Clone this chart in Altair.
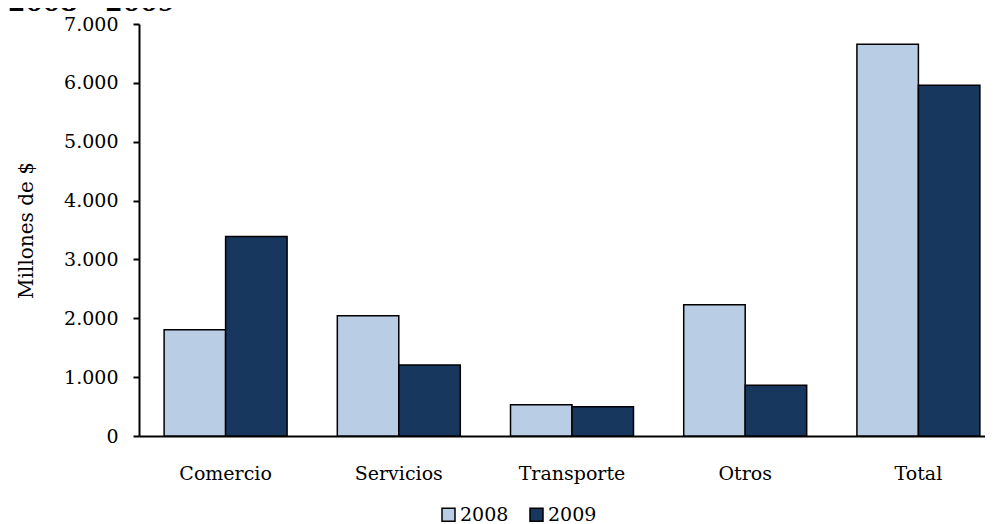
import altair as alt
import pandas as pd

# ---- data ----
chart_title = "2008 - 2009"
categories = ["Comercio", "Servicios", "Transporte", "Otros", "Total"]
years = ["2008", "2009"]
values_2008 = [1807, 2045, 529, 2231, 6655]
values_2009 = [3390, 1208, 495, 862, 5960]
y_ticks = [0, 1000, 2000, 3000, 4000, 5000, 6000, 7000]
y_title = "Millones de $"
colors = ["#B9CDE5", "#17375E"]

rows = []
for c, v8, v9 in zip(categories, values_2008, values_2009):
    rows.append({"cat": c, "year": years[0], "value": v8})
    rows.append({"cat": c, "year": years[1], "value": v9})
df = pd.DataFrame(rows)

FONT = "DejaVu Serif"

bars = alt.Chart(df).mark_bar(stroke="black", strokeWidth=1.5).encode(
    x=alt.X(
        "cat:N",
        sort=categories,
        scale=alt.Scale(range=[0, 866], paddingInner=0.29, paddingOuter=0.145),
        axis=alt.Axis(
            title=None, labelAngle=0, ticks=False, labelPadding=28,
            domainColor="black", domainWidth=2,
            labelFont=FONT, labelFontSize=19, labelColor="black",
        ),
    ),
    xOffset=alt.XOffset("year:N", sort=years),
    y=alt.Y(
        "value:Q",
        scale=alt.Scale(domain=[0, 7000], nice=False),
        axis=alt.Axis(
            values=y_ticks,
            labelExpr="replace(format(datum.value, ','), ',', '.')",
            title=y_title,
            titleFont=FONT, titleFontSize=20, titleFontWeight="normal", titleColor="black",
            titleX=-107, titleBaseline="alphabetic",
            domainColor="black", domainWidth=2,
            tickColor="black", tickWidth=2, tickSize=6,
            labelPadding=15, labelFont=FONT, labelFontSize=19, labelColor="black",
            grid=False,
        ),
    ),
    fill=alt.Fill(
        "year:N",
        scale=alt.Scale(domain=years, range=colors),
        legend=alt.Legend(
            title=None, orient="none", direction="horizontal",
            legendX=300, legendY=481,
            symbolType="square", symbolSize=169,
            symbolStrokeColor="black", symbolStrokeWidth=1.5,
            labelFont=FONT, labelFontSize=19, labelColor="black",
            labelOffset=2, columnPadding=18, padding=0,
        ),
    ),
)

title = alt.Chart(alt.Data(values=[{"t": chart_title}])).mark_text(
    align="left", baseline="alphabetic", fontWeight="bold",
    fontSize=25, font=FONT, color="black",
).encode(x=alt.value(-131), y=alt.value(-13), text="t:N")

chart = alt.layer(bars, title).properties(
    width=846,
    height=412,
    padding={"left": 131, "top": 16, "right": 0, "bottom": 88},
    autosize=alt.AutoSizeParams(type="none"),
).configure_view(stroke=None).configure_axis(grid=False)

chart.save("out.html", embed_options={"renderer": "svg", "actions": False})
